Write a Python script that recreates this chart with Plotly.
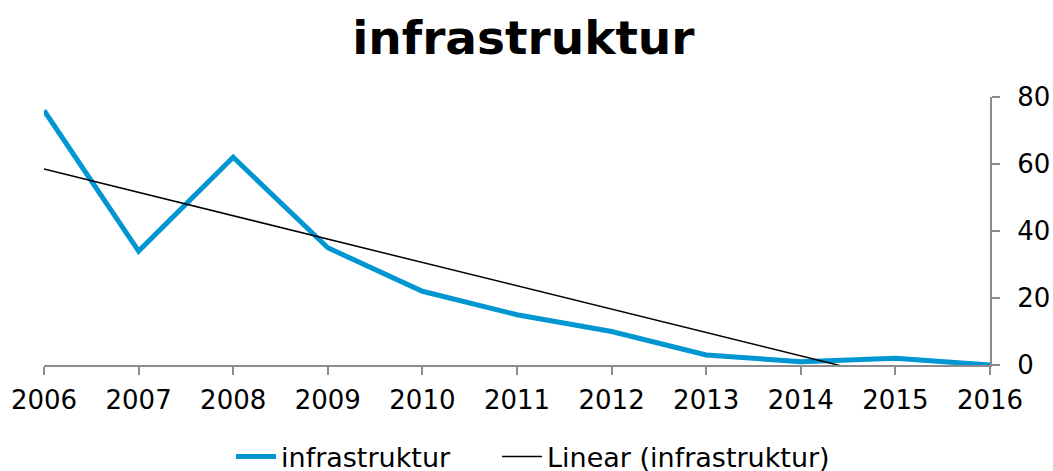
import numpy as np
import plotly.graph_objects as go

years = [2006, 2007, 2008, 2009, 2010, 2011, 2012, 2013, 2014, 2015, 2016]
infrastruktur = [76, 34, 62, 35, 22, 15, 10, 3, 1, 2, 0]
y_ticks = [0, 20, 40, 60, 80]

FONT = "DejaVu Sans, Verdana, sans-serif"
BLUE = "#0096D2"
AXIS = "#8C8C8C"

# Excel-style linear trendline, fitted on the series
slope, intercept = np.polyfit(years, infrastruktur, 1)
trend = [slope * x + intercept for x in years]

fig = go.Figure()
fig.add_trace(go.Scatter(
    x=years, y=infrastruktur, mode="lines", name="infrastruktur",
    line=dict(color=BLUE, width=5), legend="legend", showlegend=True,
))
fig.add_trace(go.Scatter(
    x=years, y=trend, mode="lines", name="Linear (infrastruktur)",
    line=dict(color="black", width=1.5), legend="legend2", showlegend=True,
))

legend_style = dict(
    orientation="h", xref="container", xanchor="left",
    y=0.03, yref="container", yanchor="middle",
    font=dict(size=27), itemwidth=40,
)

fig.update_layout(
    width=1053, height=471, showlegend=True,
    margin=dict(l=44, r=63, t=97, b=106, autoexpand=False),
    paper_bgcolor="white", plot_bgcolor="white",
    font=dict(family=FONT, size=25, color="black"),
    title=dict(
        text="<b>infrastruktur</b>", x=0.497, xref="container", xanchor="center",
        y=0.92, yref="container", yanchor="middle",
        font=dict(family=FONT, size=47, color="black"),
    ),
    xaxis=dict(
        range=[2006, 2016], tickmode="array", tickvals=years, automargin=False,
        showgrid=False, zeroline=False, showline=True, linecolor=AXIS, linewidth=2,
        ticks="outside", ticklen=8, tickwidth=2, tickcolor=AXIS,
        tickfont=dict(size=26), ticklabelstandoff=3,
    ),
    yaxis=dict(
        range=[0, 80], tickvals=y_ticks, side="right", automargin=False,
        showgrid=False, zeroline=False, showline=True, linecolor=AXIS, linewidth=2,
        ticks="outside", ticklen=8, tickwidth=2, tickcolor=AXIS,
        tickfont=dict(size=26), ticklabelstandoff=12,
    ),
    legend=dict(x=0.2194, **legend_style),
    legend2=dict(x=0.472, **legend_style),
)

# drop the default body margin so the figure fills the window exactly
fig.write_html(
    "out.html",
    config={"displayModeBar": False},
    post_script="document.body.style.margin='0';",
)
